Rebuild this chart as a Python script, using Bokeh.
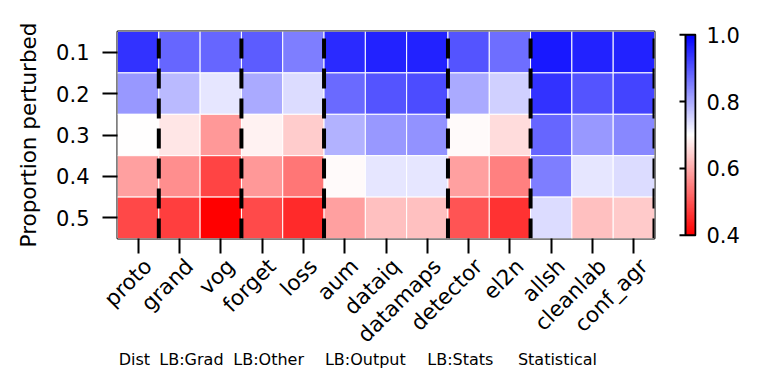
import math
import numpy as np
from bokeh.plotting import figure
from bokeh.models import (Range1d, FixedTicker, LinearAxis, LinearColorMapper,
                          ColumnDataSource, PrintfTickFormatter)
from bokeh.layouts import row
from bokeh.embed import file_html
from bokeh.resources import INLINE

# ---------------- data ----------------
methods = ["proto", "grand", "vog", "forget", "loss", "aum", "dataiq", "datamaps",
           "detector", "el2n", "allsh", "cleanlab", "conf_agr"]
proportions = ["0.1", "0.2", "0.3", "0.4", "0.5"]
group_names = ["Dist", "LB:Grad", "LB:Other", "LB:Output", "LB:Stats", "Statistical"]
group_sizes = [1, 2, 2, 3, 2, 3]

vals_p01 = [0.94, 0.88, 0.88, 0.89, 0.85, 0.95, 0.96, 0.96, 0.90, 0.87, 0.97, 0.96, 0.96]
vals_p02 = [0.82, 0.78, 0.73, 0.80, 0.74, 0.875, 0.90, 0.91, 0.80, 0.755, 0.94, 0.90, 0.92]
vals_p03 = [0.70, 0.67, 0.58, 0.685, 0.64, 0.79, 0.82, 0.827, 0.695, 0.66, 0.88, 0.82, 0.84]
vals_p04 = [0.588, 0.567, 0.48, 0.58, 0.54, 0.695, 0.73, 0.73, 0.588, 0.55, 0.85, 0.73, 0.74]
vals_p05 = [0.485, 0.475, 0.40, 0.487, 0.45, 0.588, 0.626, 0.626, 0.50, 0.46, 0.74, 0.626, 0.638]
all_rows = [vals_p01, vals_p02, vals_p03, vals_p04, vals_p05]

cbar_ticks = [0.4, 0.6, 0.8, 1.0]
vmin, vmax = 0.4, 1.0

# ---------------- layout / style ----------------
FONT = "DejaVu Sans"
group_label_x = [0.41, 1.79, 3.66, 6.0, 8.3, 10.65]
LABEL_SHIFT = 0.24   # rotated tick labels sit slightly right of their ticks


def bwr_reversed(n=256):
    cols = []
    for i in range(n):
        t = i / (n - 1)
        if t < 0.5:
            r = 255
            g = b = int(round(2 * t * 255))
        else:
            b = 255
            r = g = int(round(2 * (1 - t) * 255))
        cols.append("#%02x%02x%02x" % (r, g, b))
    return cols


mapper = LinearColorMapper(palette=bwr_reversed(), low=vmin, high=vmax)

xs, ys, vs = [], [], []
for ri, rv in enumerate(all_rows):
    for ci, v in enumerate(rv):
        xs.append(ci + 0.5)
        ys.append(ri + 0.5)
        vs.append(v)
src = ColumnDataSource(dict(x=xs, y=ys, v=vs))

n_cols = len(methods)
n_rows = len(proportions)
col_ticks = [i + 0.5 for i in range(n_cols)]

MAIN_W, H = 659, 385
p = figure(width=MAIN_W, height=H,
           x_range=Range1d(0, n_cols), y_range=Range1d(n_rows, 0),
           min_border_left=117, min_border_top=31, min_border_right=5,
           min_border_bottom=H - 31 - 207,
           output_backend="svg", toolbar_location=None)
p.extra_x_ranges = {"lab": Range1d(-LABEL_SHIFT, n_cols - LABEL_SHIFT)}
p.grid.visible = False
p.outline_line_color = "black"
p.outline_line_width = 2
p.background_fill_color = "white"

p.rect(x="x", y="y", width=1, height=1, source=src,
       fill_color={"field": "v", "transform": mapper},
       line_color="white", line_width=1)

bounds = [float(b) for b in np.cumsum(group_sizes)]
p.segment(x0=bounds, y0=[n_rows] * len(bounds), x1=bounds, y1=[0] * len(bounds),
          line_color="black", line_width=4, line_dash="20 10")

# x axis: tick marks only
xa = p.xaxis[0]
xa.ticker = FixedTicker(ticks=col_ticks)
xa.major_label_overrides = {t: "" for t in col_ticks}
xa.major_label_text_color = None
xa.major_label_text_font_size = "1px"
xa.major_label_standoff = 0
xa.major_tick_out = 15
xa.major_tick_in = 0
xa.major_tick_line_width = 2
xa.major_tick_line_color = "black"
xa.minor_tick_line_color = None
xa.axis_line_color = None

# x axis: rotated method labels
la = LinearAxis(x_range_name="lab", ticker=FixedTicker(ticks=col_ticks),
                major_label_overrides={t: m for t, m in zip(col_ticks, methods)})
la.major_label_orientation = math.pi / 4
la.major_label_text_font = FONT
la.major_label_text_font_size = "21.5px"
la.major_label_text_color = "black"
la.major_tick_out = 0
la.major_tick_in = 0
la.major_tick_line_color = None
la.minor_tick_line_color = None
la.axis_line_color = None
la.major_label_standoff = 9
p.add_layout(la, "below")

# y axis
ya = p.yaxis[0]
ya.ticker = FixedTicker(ticks=[i + 0.5 for i in range(n_rows)])
ya.major_label_overrides = {i + 0.5: s for i, s in enumerate(proportions)}
ya.major_label_text_font = FONT
ya.major_label_text_font_size = "21px"
ya.major_label_text_color = "black"
ya.major_tick_out = 15
ya.major_tick_in = 0
ya.major_tick_line_width = 2
ya.major_tick_line_color = "black"
ya.minor_tick_line_color = None
ya.axis_line_color = None
ya.major_label_standoff = 13
ya.axis_label = "Proportion perturbed"
ya.axis_label_text_font = FONT
ya.axis_label_text_font_size = "21.5px"
ya.axis_label_text_font_style = "normal"
ya.axis_label_text_color = "black"
ya.axis_label_standoff = 12

# group labels axis
ga = LinearAxis(ticker=FixedTicker(ticks=group_label_x),
                major_label_overrides={x: g for x, g in zip(group_label_x, group_names)})
ga.major_label_text_font = FONT
ga.major_label_text_font_size = "16px"
ga.major_label_text_color = "black"
ga.major_tick_line_color = None
ga.major_tick_out = 0
ga.major_tick_in = 0
ga.minor_tick_line_color = None
ga.axis_line_color = None
ga.major_label_standoff = -10
p.add_layout(ga, "below")

# ---------------- colorbar figure ----------------
CB_W = 87
cb = figure(width=CB_W, height=H,
            x_range=Range1d(-0.7, 1.1), y_range=Range1d(0.39, 1.01),
            x_axis_location=None, y_axis_location="right",
            min_border_left=19, min_border_top=26, min_border_right=CB_W - 19 - 18,
            min_border_bottom=H - 26 - 218,
            output_backend="svg", toolbar_location=None)
cb.grid.visible = False
cb.outline_line_color = None
grad = np.linspace(vmin, vmax, 256).reshape(256, 1)
cb.image(image=[grad], x=0, y=vmin, dw=1, dh=vmax - vmin, color_mapper=mapper)
cb.rect(x=[0.5], y=[(vmin + vmax) / 2], width=1, height=vmax - vmin,
        fill_color=None, line_color="black", line_width=2)
cb.segment(x0=[-0.6] * len(cbar_ticks), y0=cbar_ticks, x1=[0] * len(cbar_ticks),
           y1=cbar_ticks, line_color="black", line_width=2)

ra = cb.yaxis[0]
ra.ticker = FixedTicker(ticks=cbar_ticks)
ra.formatter = PrintfTickFormatter(format="%.1f")
ra.major_label_text_font = FONT
ra.major_label_text_font_size = "21px"
ra.major_label_text_color = "black"
ra.major_tick_line_color = None
ra.major_tick_out = 0
ra.major_tick_in = 0
ra.minor_tick_line_color = None
ra.axis_line_color = None
ra.major_label_standoff = 10

layout = row(p, cb)
open("out.html", "w").write(file_html(layout, INLINE))
